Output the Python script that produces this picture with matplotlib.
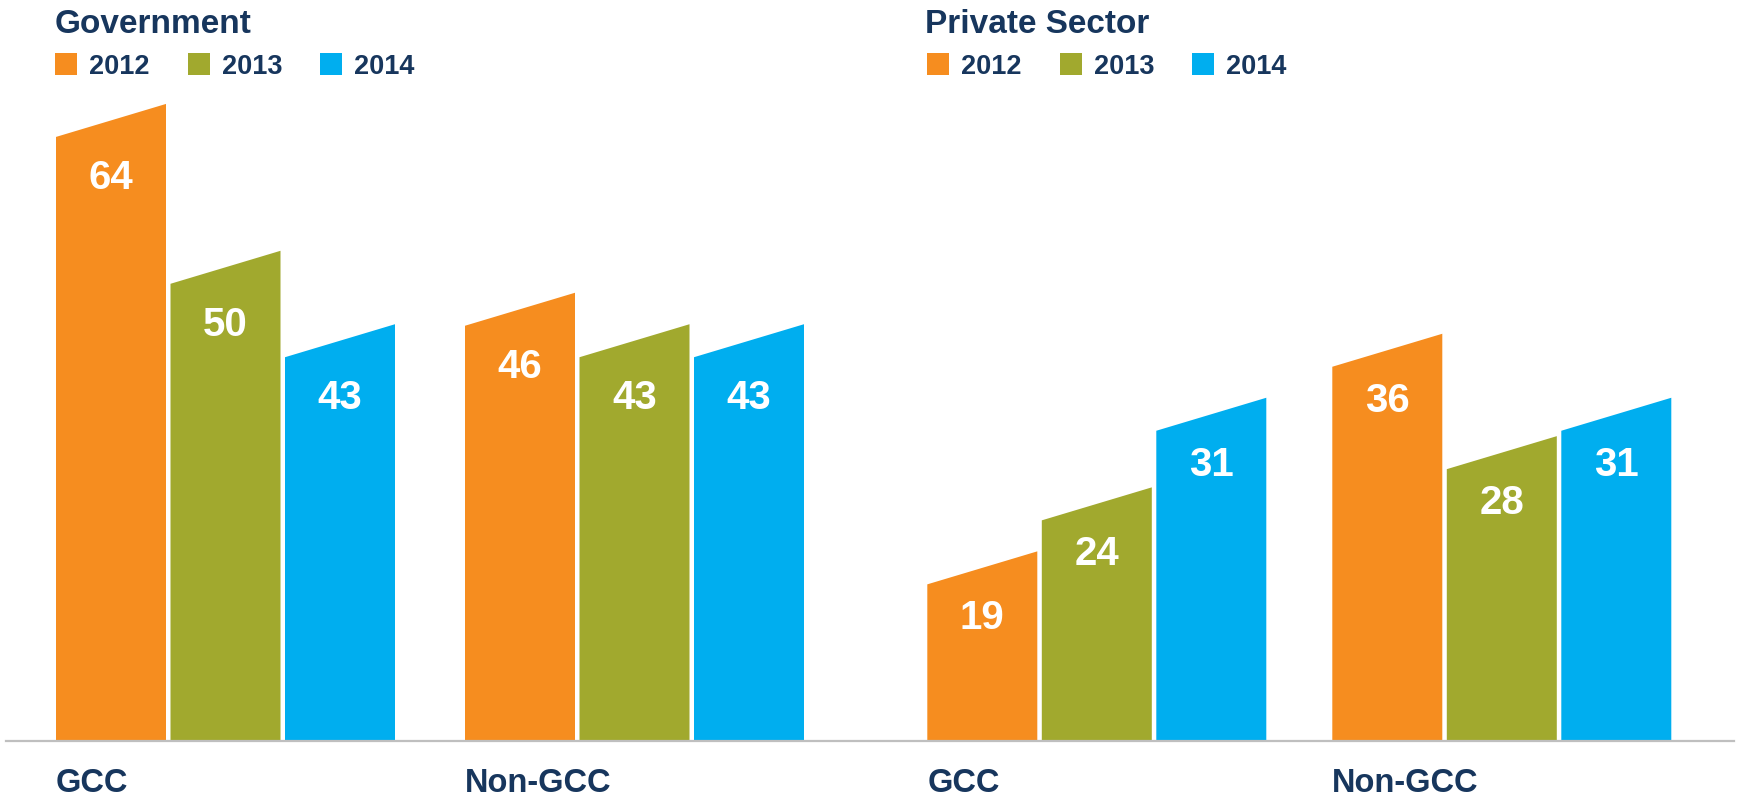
import matplotlib
matplotlib.use("Agg")
import matplotlib.pyplot as plt
from matplotlib.patches import Rectangle
from matplotlib.lines import Line2D

# ---- data ----
panels = ["Government", "Private Sector"]
categories = ["GCC", "Non-GCC"]
years = ["2012", "2013", "2014"]
gov_values = [[64, 50, 43], [46, 43, 43]]      # [category][year]
priv_values = [[19, 24, 31], [36, 28, 31]]
colors = ["#F68D1F", "#A1A92E", "#00AEEF"]
navy = "#17365D"

plt.rcParams['font.family'] = ['Liberation Sans', 'DejaVu Sans']
plt.rcParams['font.weight'] = 'bold'

W, H = 1738, 796
fig = plt.figure(figsize=(W / 100, H / 100), dpi=100)

def fx(px):
    return px / W

def fy(py):
    return 1 - py / H

BASE_PX = 740
TOP_PX = 80
SLANT_PX = 33

layouts = [
    dict(left=0, right=869, ybot=6.51, ppu=10.49, c0=225.5, sp=409.0, lab=41,
         title_x=55, leg_x=[55, 188, 320]),
    dict(left=869, right=1738, ybot=6.84, ppu=12.8, c0=1096.8, sp=405.0, lab=34,
         title_x=925, leg_x=[927, 1060, 1192]),
]
values_all = [gov_values, priv_values]

BAR_W_PX = 110
STEP_PX = 114.5

for p, (lay, vals) in enumerate(zip(layouts, values_all)):
    ah = BASE_PX - TOP_PX
    ax = fig.add_axes([fx(lay['left']), fy(BASE_PX), fx(lay['right'] - lay['left']), ah / H])
    ytop = lay['ybot'] + ah / lay['ppu']
    ax.set_ylim(lay['ybot'], ytop)
    xl = (lay['left'] - lay['c0']) / lay['sp']
    xr = (lay['right'] - lay['c0']) / lay['sp']
    ax.set_xlim(xl, xr)
    ax.axis('off')
    bw = BAR_W_PX / lay['sp']
    step = STEP_PX / lay['sp']
    slant = SLANT_PX / lay['ppu']
    for ci, cat in enumerate(categories):
        for yi in range(len(years)):
            v = vals[ci][yi]
            xc = ci + (yi - 1) * step
            x0, x1 = xc - bw / 2, xc + bw / 2
            ax.fill([x0, x0, x1, x1], [lay['ybot'], v, v + slant, lay['ybot']],
                    color=colors[yi], lw=0, clip_on=False)
            ax.annotate(str(v), (xc, v), xytext=(0, -lay['lab'] * 0.72),
                        textcoords='offset points', ha='center', va='center',
                        color='white', fontsize=29, fontweight='bold')
        gx_px = lay['c0'] + ci * lay['sp'] - STEP_PX - BAR_W_PX / 2
        fig.text(fx(gx_px), fy(792), cat, ha='left', va='baseline',
                 fontsize=23.5, fontweight='bold', color=navy)
    fig.text(fx(lay['title_x']), fy(33), panels[p], ha='left', va='baseline',
             fontsize=24, fontweight='bold', color=navy)
    for yi, yr in enumerate(years):
        lx = lay['leg_x'][yi]
        fig.patches.append(Rectangle((fx(lx), fy(75)), fx(22), 22 / H,
                                     transform=fig.transFigure, color=colors[yi], lw=0))
        fig.text(fx(lx + 34), fy(74), yr, ha='left', va='baseline',
                 fontsize=19.5, fontweight='bold', color=navy)

fig.lines.append(Line2D([fx(6), fx(1734)], [fy(741), fy(741)], transform=fig.transFigure,
                        color="#BFBFBF", lw=1.6))

fig.savefig("out.png", dpi=100)
